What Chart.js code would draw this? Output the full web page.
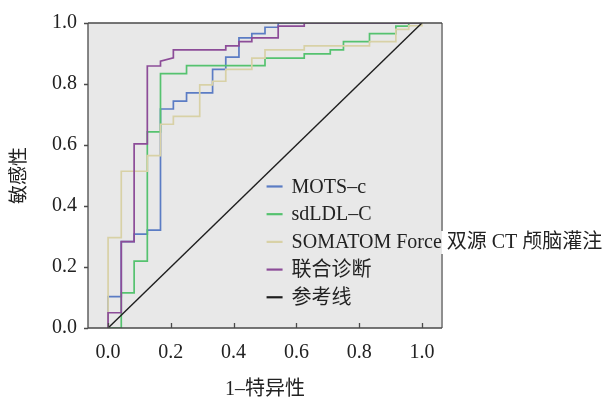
<!DOCTYPE html>
<html>
<head>
<meta charset="utf-8">
<script src="https://cdn.jsdelivr.net/npm/chart.js@4"></script>
<style>
  html, body { margin: 0; padding: 0; background: #fff; }
  #wrap { width: 604px; height: 407px; }
</style>
</head>
<body>
<div id="wrap"><canvas id="roc-chart" width="604" height="407"></canvas></div>
<script>
// ROC curves, 1-specificity on x, sensitivity on y
const seriesLabels = ['MOTS–c', 'sdLDL–C', 'SOMATOM Force 双源 CT 颅脑灌注', '联合诊断', '参考线'];
const seriesColors = ['#5b7cc4', '#55c26f', '#d8d1a6', '#8c4c98', '#1e1e1e'];
const xTicks = [0, 0.2, 0.4, 0.6, 0.8, 1.0];
const yTicks = [0, 0.2, 0.4, 0.6, 0.8, 1.0];

const motsX = [0, 0, 0.042, 0.042, 0.083, 0.083, 0.125, 0.125, 0.167, 0.167, 0.208, 0.208, 0.25, 0.25, 0.333, 0.333, 0.375, 0.375, 0.417, 0.417, 0.458, 0.458, 0.5, 0.5, 0.542, 0.542, 1];
const motsY = [0, 0.103, 0.103, 0.283, 0.283, 0.308, 0.308, 0.321, 0.321, 0.718, 0.718, 0.744, 0.744, 0.771, 0.771, 0.848, 0.848, 0.888, 0.888, 0.951, 0.951, 0.965, 0.965, 0.986, 0.986, 1, 1];

const ldlX = [0, 0.042, 0.042, 0.083, 0.083, 0.125, 0.125, 0.167, 0.167, 0.25, 0.25, 0.5, 0.5, 0.625, 0.625, 0.708, 0.708, 0.75, 0.75, 0.833, 0.833, 0.917, 0.917, 0.958, 0.958, 1];
const ldlY = [0, 0, 0.115, 0.115, 0.219, 0.219, 0.643, 0.643, 0.834, 0.834, 0.86, 0.86, 0.885, 0.885, 0.899, 0.899, 0.912, 0.912, 0.939, 0.939, 0.965, 0.965, 0.99, 0.99, 1, 1];

const ctX = [0, 0, 0.042, 0.042, 0.125, 0.125, 0.167, 0.167, 0.208, 0.208, 0.292, 0.292, 0.333, 0.333, 0.375, 0.375, 0.458, 0.458, 0.5, 0.5, 0.625, 0.625, 0.833, 0.833, 0.917, 0.917, 0.958, 0.958, 1, 1];
const ctY = [0, 0.296, 0.296, 0.514, 0.514, 0.565, 0.565, 0.668, 0.668, 0.694, 0.694, 0.797, 0.797, 0.809, 0.809, 0.848, 0.848, 0.885, 0.885, 0.912, 0.912, 0.925, 0.925, 0.939, 0.939, 0.979, 0.979, 0.991, 0.991, 1];

const comboX = [0, 0, 0.042, 0.042, 0.083, 0.083, 0.125, 0.125, 0.167, 0.167, 0.208, 0.208, 0.375, 0.375, 0.417, 0.417, 0.458, 0.458, 0.542, 0.542, 0.625, 0.625, 1];
const comboY = [0, 0.05, 0.05, 0.283, 0.283, 0.604, 0.604, 0.859, 0.859, 0.875, 0.886, 0.912, 0.912, 0.925, 0.925, 0.939, 0.939, 0.951, 0.951, 0.99, 0.99, 1, 1];

const refX = [0, 1];
const refY = [0, 1];

const FONT = '"Liberation Serif", "Noto Sans CJK SC", serif';
const TEXT_COLOR = '#222';

function toPoints(xs, ys) {
    return xs.map((x, i) => ({ x: x, y: ys[i] }));
}

let curves = [[motsX, motsY], [ldlX, ldlY], [ctX, ctY], [comboX, comboY], [refX, refY]];
// later series sit on top, like the original
let datasets = curves.map((c, i) => ({
    label: seriesLabels[i],
    data: toPoints(c[0], c[1]),
    borderColor: seriesColors[i],
    borderWidth: i === 4 ? 1.4 : 1.7,
    pointRadius: 0,
    tension: 0,
    fill: false,
    order: 4 - i
}));

// plot background, frame, tick marks and the legend
const framePlugin = {
    id: 'framePlugin',
    beforeDatasetsDraw(chart) {
        let { ctx, chartArea: a } = chart;
        ctx.save();
        ctx.fillStyle = '#e8e8e8';
        ctx.fillRect(a.left, a.top, a.right - a.left, a.bottom - a.top);
        ctx.restore();
    },
    afterDatasetsDraw(chart) {
        let { ctx, chartArea: a, scales } = chart;
        ctx.save();
        // right edge is a lighter, thicker line, broken by the long legend entry
        let rowY = legendRowY(chart, 2);
        ctx.strokeStyle = '#8f8f8f';
        ctx.lineWidth = 2;
        ctx.beginPath();
        ctx.moveTo(a.right, a.top);
        ctx.lineTo(a.right, rowY - 11);
        ctx.moveTo(a.right, rowY + 12);
        ctx.lineTo(a.right, a.bottom);
        ctx.stroke();

        ctx.strokeStyle = '#4a4a4a';
        ctx.lineWidth = 1.3;
        ctx.beginPath();
        ctx.moveTo(a.left, a.top);
        ctx.lineTo(a.right, a.top);
        ctx.moveTo(a.left, a.top);
        ctx.lineTo(a.left, a.bottom);
        ctx.lineTo(a.right, a.bottom);
        yTicks.forEach(v => {
            let py = Math.round(scales.y.getPixelForValue(v)) + 0.5;
            ctx.moveTo(a.left - 4, py);
            ctx.lineTo(a.left, py);
        });
        xTicks.forEach(v => {
            let px = Math.round(scales.x.getPixelForValue(v)) + 0.5;
            ctx.moveTo(px, a.bottom);
            ctx.lineTo(px, a.bottom - 5);
        });
        ctx.stroke();
        ctx.restore();
    },
    afterDraw(chart) {
        let { ctx } = chart;
        let x0 = chart.scales.x.getPixelForValue(0.505);
        ctx.save();
        ctx.font = '20px ' + FONT;
        ctx.textBaseline = 'middle';
        ctx.fillStyle = TEXT_COLOR;
        chart.data.datasets.forEach((ds, i) => {
            let y = legendRowY(chart, i);
            ctx.strokeStyle = ds.borderColor;
            ctx.lineWidth = 2.2;
            ctx.beginPath();
            ctx.moveTo(x0, y);
            ctx.lineTo(x0 + 16, y);
            ctx.stroke();
            ctx.fillText(ds.label, x0 + 25, y + 1);
        });
        ctx.restore();
    }
};

function legendRowY(chart, i) {
    return chart.scales.y.getPixelForValue(0.464) + i * 27.7;
}

let ctx = document.getElementById('roc-chart').getContext('2d');
let chart = new Chart(ctx, {
    type: 'line',
    data: { datasets: datasets },
    plugins: [framePlugin],
    options: {
        responsive: false,
        animation: false,
        layout: { padding: { left: 0, right: 162, top: 14, bottom: 0 } },
        plugins: {
            legend: { display: false },
            tooltip: { enabled: false }
        },
        scales: {
            x: {
                type: 'linear',
                min: -0.064,
                max: 1.064,
                afterBuildTicks: s => { s.ticks = xTicks.map(v => ({ value: v })); },
                afterFit: s => { s.height = 79; },
                ticks: {
                    callback: v => v.toFixed(1),
                    font: { family: FONT, size: 20 },
                    color: TEXT_COLOR,
                    padding: 13,
                    maxRotation: 0
                },
                grid: { display: false, drawTicks: false },
                border: { display: false },
                title: {
                    display: true,
                    text: '1–特异性',
                    font: { family: FONT, size: 20 },
                    color: TEXT_COLOR,
                    padding: { top: 0, bottom: 5 }
                }
            },
            y: {
                type: 'linear',
                min: 0,
                max: 1,
                afterBuildTicks: s => { s.ticks = yTicks.map(v => ({ value: v })); },
                afterFit: s => { s.width = 88; },
                ticks: {
                    callback: v => v.toFixed(1),
                    font: { family: FONT, size: 20 },
                    color: TEXT_COLOR,
                    padding: 11
                },
                grid: { display: false, drawTicks: false },
                border: { display: false },
                title: {
                    display: true,
                    text: '敏感性',
                    font: { family: FONT, size: 19 },
                    color: TEXT_COLOR,
                    padding: { top: 9, bottom: 0 }
                }
            }
        }
    }
});
</script>
</body>
</html>
